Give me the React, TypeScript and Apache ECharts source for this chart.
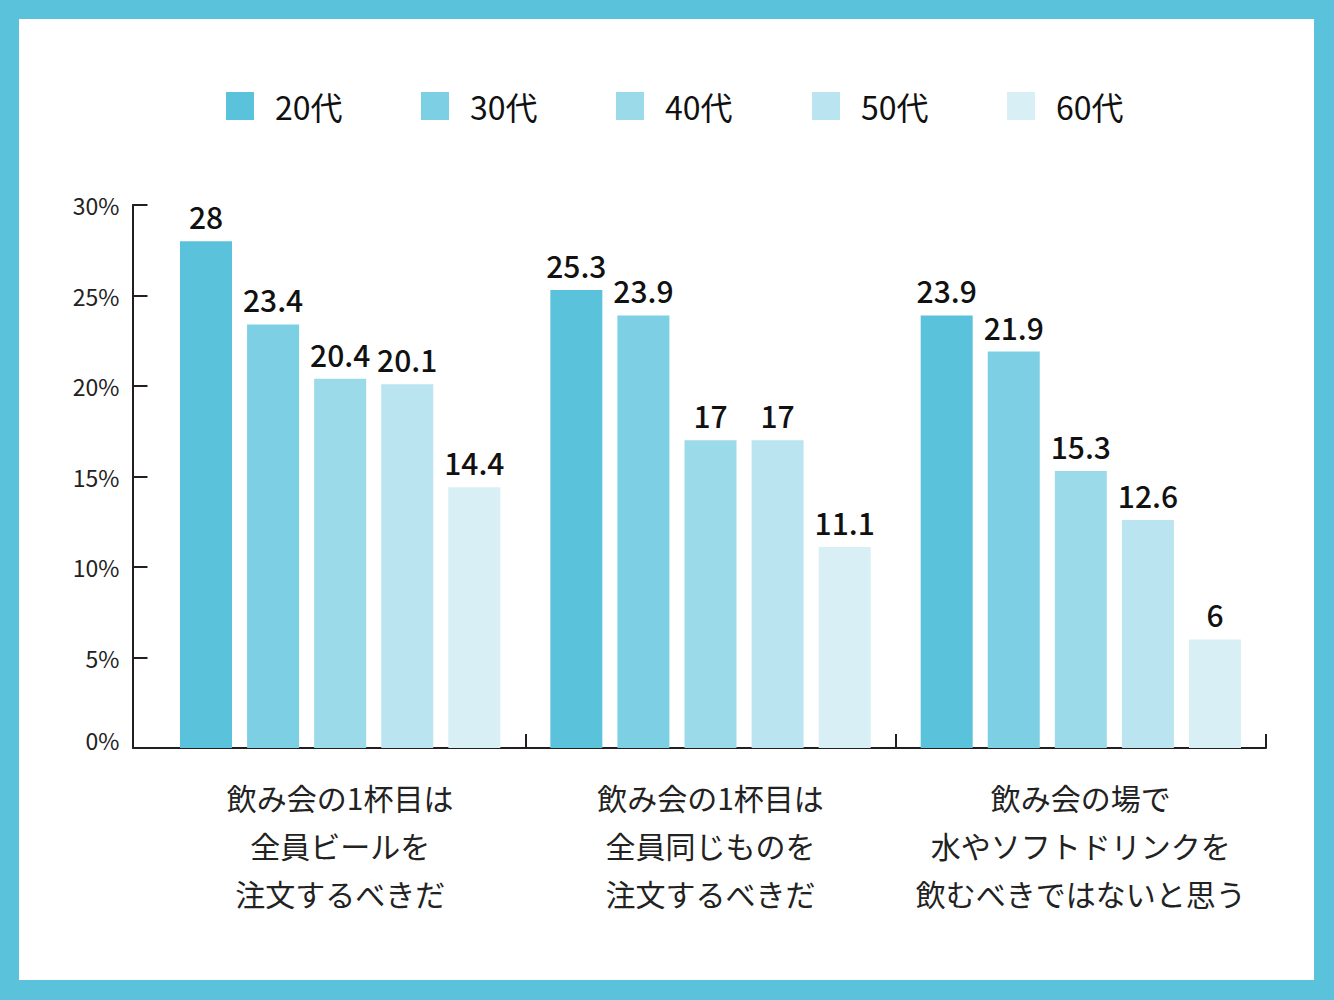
import React, { useEffect, useRef } from "react";
import * as echarts from "echarts";

const categories = [
  "飲み会の1杯目は\n全員ビールを\n注文するべきだ",
  "飲み会の1杯目は\n全員同じものを\n注文するべきだ",
  "飲み会の場で\n水やソフトドリンクを\n飲むべきではないと思う",
];
const seriesNames = ["20代", "30代", "40代", "50代", "60代"];
const v20 = [28, 25.3, 23.9];
const v30 = [23.4, 23.9, 21.9];
const v40 = [20.4, 17, 15.3];
const v50 = [20.1, 17, 12.6];
const v60 = [14.4, 11.1, 6];
const seriesValues = [v20, v30, v40, v50, v60];
const colors = ["#5BC2DB", "#7DCFE3", "#9BDAE9", "#BAE4F0", "#D7EFF5"];
const legendLefts = [207, 402, 597, 793, 988];

const FONT = "'Noto Sans CJK JP', 'Noto Sans', sans-serif";

export default function App() {
  const ref = useRef<HTMLDivElement>(null);
  useEffect(() => {
    if (!ref.current) return;
    const chart = echarts.init(ref.current, null, { renderer: "svg" });
    const axisColor = "#231f20";
    chart.setOption({
      animation: false,
      backgroundColor: "#ffffff",
      textStyle: { fontFamily: FONT },
      legend: seriesNames.map((n, i) => ({
        data: [n],
        left: legendLefts[i],
        top: 71,
        padding: 0,
        itemWidth: 28,
        itemHeight: 28,
        icon: "rect",
        selectedMode: false,
        textStyle: {
          fontSize: 32,
          color: "#111",
          fontFamily: FONT,
          padding: [0, 0, 0, 16],
        },
      })),
      grid: { left: 136, right: 48, top: 186, bottom: 232, containLabel: false },
      xAxis: {
        type: "category",
        data: categories,
        axisLine: { show: true, lineStyle: { color: axisColor, width: 2 } },
        axisTick: {
          show: true,
          inside: true,
          length: 14,
          interval: (i: number) => i !== 0,
          lineStyle: { color: axisColor, width: 2 },
        },
        axisLabel: {
          interval: 0,
          color: "#222",
          fontSize: 30,
          lineHeight: 48,
          margin: 25,
          fontFamily: FONT,
        },
      },
      yAxis: {
        type: "value",
        min: 0,
        max: 30,
        interval: 5,
        offset: 22.5,
        splitLine: { show: false },
        axisLine: { show: true, lineStyle: { color: axisColor, width: 2 } },
        axisTick: { show: true, inside: true, length: 15, lineStyle: { color: axisColor, width: 2 } },
        axisLabel: {
          margin: 13,
          color: "#222",
          fontSize: 23,
          fontFamily: FONT,
          formatter: (v: number) => (v === 0 ? "{z|0%}" : v + "%"),
          rich: { z: { fontSize: 23, color: "#222", padding: [0, 0, 16, 0], fontFamily: FONT } },
        },
      },
      graphic: [
        {
          type: "line",
          shape: { x1: 113.7, y1: 729, x2: 137, y2: 729 },
          style: { stroke: axisColor, lineWidth: 2 },
        },
      ],
      series: seriesNames.map((n, i) => ({
        name: n,
        type: "bar",
        data: seriesValues[i],
        barWidth: 52,
        barGap: "29%",
        itemStyle: { color: colors[i] },
        label: {
          show: true,
          position: "top",
          distance: 10,
          color: "#111",
          fontSize: 30,
          fontWeight: 500,
          fontFamily: FONT,
        },
      })),
    });
    return () => chart.dispose();
  }, []);
  return (
    <div
      style={{
        position: "absolute",
        left: 0,
        top: 0,
        width: 1334,
        height: 1000,
        background: "#5BC2DB",
      }}
    >
      <div
        ref={ref}
        style={{ position: "absolute", left: 19, top: 19, width: 1295, height: 961, background: "#fff" }}
      />
    </div>
  );
}
